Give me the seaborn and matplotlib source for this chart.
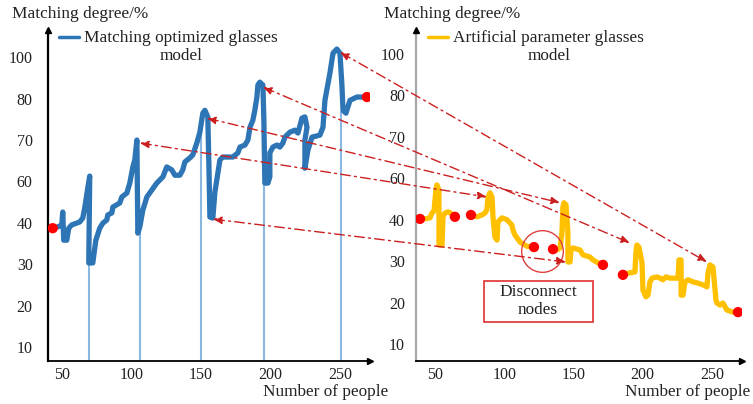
import numpy as np
import pandas as pd
import matplotlib
matplotlib.use("Agg")
import matplotlib.pyplot as plt
import seaborn as sns
from matplotlib.patches import ConnectionPatch, Rectangle
from matplotlib.legend_handler import HandlerLine2D
from matplotlib.lines import Line2D

# ---------------- data ----------------
ytick_values = [10, 20, 30, 40, 60, 70, 80, 100]
xtick_values = [50, 100, 150, 200, 250]

opt_label = "Matching optimized glasses\nmodel"
art_label = "Artificial parameter glasses\nmodel"

opt_x = [43.5, 47.1, 50.0, 50.7, 51.4, 53.6, 55.0, 57.2, 62.9, 65.1,
         66.5, 68.7, 70.1, 69.4, 72.3, 74.5, 77.3, 79.5, 82.4, 83.1,
         86.0, 86.7, 91.7, 93.2, 96.8, 98.9, 101.1, 102.5, 104.0, 104.7,
         106.1, 108.3, 111.2, 114.7, 118.3, 122.7, 125.5, 129.1, 131.3, 134.9,
         137.0, 138.5, 142.1, 144.2, 147.1, 149.3, 151.4, 152.9, 155.0, 155.8,
         156.5, 158.6, 160.1, 163.7, 165.8, 173.0, 176.6, 178.1, 181.7, 183.8,
         185.3, 187.4, 188.8, 190.3, 191.0, 192.4, 194.6, 195.3, 196.0, 198.2,
         199.6, 199.6, 201.8, 204.7, 206.8, 209.0, 210.4, 214.0, 217.6, 219.8,
         222.7, 224.8, 226.3, 224.8, 224.8, 227.0, 229.9, 235.6, 237.8, 239.2,
         242.8, 245.0, 247.8, 250.0, 251.4, 252.2, 254.3, 257.2, 262.2, 269.4]
opt_y = [38.7, 39.0, 39.5, 45.2, 35.8, 35.8, 38.7, 39.5, 40.4, 42.3,
         47.2, 56.8, 61.3, 30.3, 30.3, 35.8, 38.7, 39.9, 41.4, 43.8,
         44.8, 47.6, 49.6, 52.5, 54.4, 59.2, 63.5, 65.2, 70.0, 37.5,
         39.0, 46.2, 52.5, 55.8, 59.2, 61.1, 63.5, 62.8, 61.5, 61.5,
         62.8, 64.7, 65.7, 66.4, 69.3, 71.9, 76.5, 77.2, 75.6, 63.5,
         42.8, 42.3, 54.9, 65.2, 65.9, 65.9, 66.9, 68.3, 68.8, 70.0,
         73.1, 74.8, 77.2, 80.8, 86.6, 88.0, 86.6, 74.8, 59.2, 59.2,
         61.1, 66.9, 68.3, 68.8, 68.3, 69.3, 70.7, 71.9, 72.4, 71.7,
         75.3, 75.6, 73.1, 70.0, 63.2, 67.6, 70.7, 71.2, 73.1, 79.6,
         92.4, 102.0, 104.0, 102.0, 86.6, 77.2, 76.5, 79.6, 80.8, 80.8]

# thin drop lines under the optimized curve
drop_x = [69.4, 106.1, 150.0, 195.3, 250.5]
drop_top = [30.3, 37.5, 72.5, 59.2, 77.0]

# artificial-parameter curve: disconnected segments
art_seg1_x = [39.2, 42.1, 46.4, 47.8, 49.3, 50.7, 51.4, 52.9, 52.9, 55.1, 55.8, 57.2, 59.4, 62.3, 64.4]
art_seg1_y = [40.4, 40.4, 40.9, 43.2, 44.2, 54.4, 56.8, 54.4, 33.9, 33.9, 41.4, 43.2, 43.8, 42.8, 41.4]
art_seg2_x = [76.0, 80.3, 83.9, 86.1, 87.5, 88.3, 89.7, 91.2, 91.9, 93.3,
              94.8, 95.5, 98.4, 102.0, 105.6, 106.3, 107.8, 111.4, 116.4, 121.5]
art_seg2_y = [42.3, 41.4, 42.3, 43.2, 44.8, 51.0, 53.0, 51.0, 41.4, 35.8,
              35.1, 39.5, 40.9, 40.0, 38.7, 37.5, 36.3, 34.6, 33.6, 33.4]
art_seg3_x = [135.2, 138.1, 140.3, 141.7, 142.4, 143.1, 144.6, 146.0, 146.0, 147.5,
              148.2, 149.6, 154.7, 156.9, 161.9, 164.1, 167.7, 171.3]
art_seg3_y = [32.9, 32.7, 33.2, 36.8, 46.2, 48.2, 47.2, 36.8, 29.8, 29.8,
              32.7, 33.2, 32.7, 31.5, 31.0, 30.3, 29.6, 29.1]
art_seg4_x = [185.7, 189.4, 194.4, 195.1, 195.8, 197.3, 199.5, 200.2, 202.3, 203.8,
              205.2, 206.7, 210.3, 212.5, 214.6, 216.8, 219.7, 225.5, 226.2, 227.7,
              227.7, 229.1, 230.5, 232.7, 236.3, 239.9, 243.5, 246.4, 247.1, 248.6,
              250.7, 251.4, 252.9, 253.6, 255.8, 257.9, 260.8, 265.2, 268.8]
art_seg4_y = [26.7, 27.1, 27.4, 32.2, 33.9, 33.4, 29.6, 23.0, 21.4, 21.8,
              25.0, 25.9, 26.2, 25.9, 25.5, 26.2, 25.9, 25.9, 30.3, 30.3,
              21.8, 21.8, 25.0, 25.5, 25.0, 24.7, 24.3, 23.8, 27.1, 29.1,
              28.6, 26.2, 20.6, 19.9, 19.4, 19.9, 18.2, 17.7, 17.7]

# correspondences (left-panel point <-> right-panel point)
link_left_x = [106.1, 154.3, 194.6, 250.0, 158.6]
link_left_y = [69.3, 75.3, 85.6, 102.5, 41.8]
link_right_x = [87.5, 140.3, 190.8, 246.4, 144.6]
link_right_y = [51.0, 48.2, 34.4, 29.8, 29.8]

disconnect_center = (127.3, 32.5)
disconnect_text = "Disconnect\nnodes"

# ---------------- style ----------------
sns.set_theme(style="white")
plt.rcParams['font.family'] = ['Liberation Serif', 'DejaVu Serif']

BLUE = "#2e75b6"
GOLD = "#ffc000"
RED = "#cc2020"
DOT = "#ff0000"

# piecewise-linear y axis (ticks equally spaced)
scale_vals = [0, 10, 20, 30, 40, 60, 70, 80, 100, 120]
scale_pos = list(range(len(scale_vals)))


def fwd(v):
    return np.interp(v, scale_vals, scale_pos)


def inv(p):
    return np.interp(p, scale_pos, scale_vals)


class FirstLineHandler(HandlerLine2D):
    def create_artists(self, legend, orig_handle, xdescent, ydescent,
                       width, height, fontsize, trans):
        arts = super().create_artists(legend, orig_handle, xdescent, ydescent,
                                      width, height, fontsize, trans)
        for a in arts:
            a.set_ydata(np.asarray(a.get_ydata()) + 0.6 * fontsize)
        return arts


W, H = 753, 404
fig = plt.figure(figsize=(W / 100, H / 100), dpi=100)
axL = fig.add_axes([48 / W, (H - 361) / H, 322 / W, 331 / H])
axR = fig.add_axes([416 / W, (H - 361) / H, 326 / W, 331 / H])

for ax in (axL, axR):
    ax.set_yscale('function', functions=(fwd, inv))

axL.set_xlim(40.1, 271.6)
axL.set_ylim(6.6, 113.2)
axR.set_xlim(36.3, 271.7)
axR.set_ylim(5.9, 111.6)

# ----- left panel -----
axL.vlines(drop_x, 6.6, drop_top, color="#8ab8e2", lw=1.5, zorder=1)
sns.lineplot(x=opt_x, y=opt_y, sort=False, estimator=None, ax=axL,
             color=BLUE, lw=3.8, zorder=3,
             solid_capstyle='round', solid_joinstyle='round')
sns.scatterplot(x=[opt_x[0], opt_x[-1]], y=[opt_y[0], opt_y[-1]], ax=axL,
                color=DOT, s=55, edgecolor='none', zorder=5)

# ----- right panel -----
segs = [(art_seg1_x, art_seg1_y), (art_seg2_x, art_seg2_y),
        (art_seg3_x, art_seg3_y), (art_seg4_x, art_seg4_y)]
df = pd.concat([pd.DataFrame({'x': sx, 'y': sy, 'seg': i})
                for i, (sx, sy) in enumerate(segs)], ignore_index=True)
sns.lineplot(data=df, x='x', y='y', units='seg', estimator=None, sort=False,
             ax=axR, color=GOLD, lw=3.8, zorder=3,
             solid_capstyle='round', solid_joinstyle='round')
end_x = [p for sx, sy in segs for p in (sx[0], sx[-1])]
end_y = [p for sx, sy in segs for p in (sy[0], sy[-1])]
sns.scatterplot(x=end_x, y=end_y, ax=axR, color=DOT, s=55,
                edgecolor='none', zorder=5)

axR.plot([disconnect_center[0]], [disconnect_center[1]], marker='o', ms=30,
         mfc='none', mec='#e04040', mew=1.0, zorder=6)
axR.add_patch(Rectangle((0.2086, 0.1178), 0.3344, 0.124, transform=axR.transAxes,
                        fill=True, fc='white', ec='#e03030', lw=1.2, zorder=6))
axR.text(0.374, 0.181, disconnect_text, transform=axR.transAxes, ha='center',
         va='center', fontsize=12.4, linespacing=1.2, zorder=7, color='#222222')

# ----- axes cosmetics -----
for ax, ycol, pady in ((axL, 'black', 11), (axR, '#a6a6a6', 8)):
    sns.despine(ax=ax)
    ax.spines['left'].set_color(ycol)
    ax.spines['left'].set_linewidth(1.6)
    ax.spines['bottom'].set_color('black')
    ax.spines['bottom'].set_linewidth(1.3)
    ax.set_yticks(ytick_values, labels=[str(v) for v in ytick_values])
    ax.set_xticks(xtick_values, labels=[str(v) for v in xtick_values])
    ax.minorticks_off()
    ax.tick_params(axis='y', length=0, labelsize=11.5, pad=pady, colors='#222222')
    ax.tick_params(axis='x', length=0, labelsize=11.5, pad=4, colors='#222222')
    ax.plot(1, 0, marker='>', transform=ax.transAxes, clip_on=False,
            color='black', ms=5, zorder=8)
    ax.plot(0, 1, marker='^', transform=ax.transAxes, clip_on=False,
            color='black', ms=5, zorder=8)
    ax.set_ylabel('Matching degree/%', rotation=0, ha='left', va='center',
                  fontsize=12.4, color='#222222')
    ax.set_xlabel('Number of people', ha='right', va='center',
                  fontsize=12.4, color='#222222')

axL.yaxis.set_label_coords(-0.112, 1.048)
axR.yaxis.set_label_coords(-0.098, 1.048)
axL.xaxis.set_label_coords(1.056, -0.094)
axR.xaxis.set_label_coords(1.025, -0.094)

# legends
for ax, col, lab, bx in ((axL, BLUE, opt_label, 0.034), (axR, GOLD, art_label, 0.037)):
    h = Line2D([0], [0], color=col, lw=2.5)
    leg = ax.legend(handles=[h], labels=[lab], loc='upper left',
                    bbox_to_anchor=(bx, 1.0), frameon=False, fontsize=12.4,
                    borderpad=0, borderaxespad=0, handlelength=1.16,
                    handletextpad=0.3, handler_map={Line2D: FirstLineHandler()})
    for t in leg.get_texts():
        t.set_multialignment('center')
        t.set_color('#222222')

# correspondence arrows across panels
for xl, yl, xr, yr in zip(link_left_x, link_left_y, link_right_x, link_right_y):
    cp = ConnectionPatch(xyA=(xl, yl), coordsA='data', axesA=axL,
                         xyB=(xr, yr), coordsB='data', axesB=axR,
                         arrowstyle='<|-|>,head_length=0.45,head_width=0.18',
                         mutation_scale=12, linestyle=(0, (7, 3, 1.5, 3)),
                         color=RED, lw=1.0, shrinkA=0, shrinkB=0, zorder=9)
    fig.add_artist(cp)

fig.savefig('out.png', dpi=100)
